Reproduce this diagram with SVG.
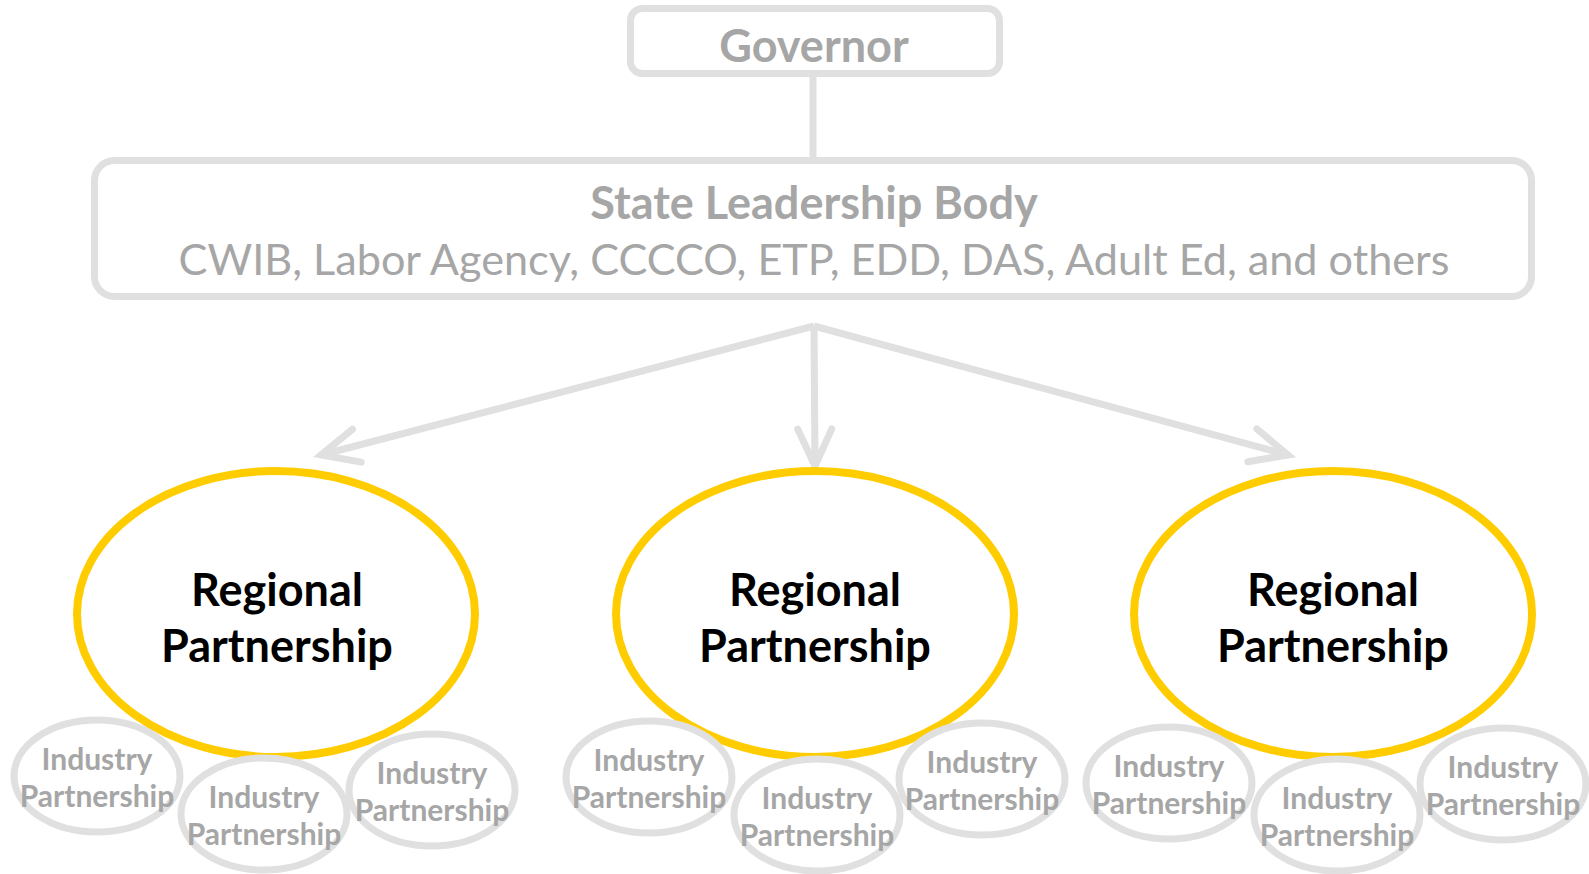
<svg xmlns="http://www.w3.org/2000/svg" width="1589" height="874" viewBox="0 0 1589 874">
<defs>
<style>
.box{fill:#fff;stroke:#e0e0e0;stroke-width:7}
.conn{fill:none;stroke:#e0e0e0;stroke-width:7}
.rp{fill:#fff;stroke:#ffcc00;stroke-width:8}
.ip{fill:#fff;stroke:#e0e0e0;stroke-width:7}
.gt{font-family:Lato,"Liberation Sans",sans-serif;fill:#a6a6a6;text-anchor:middle}
.b{font-weight:bold}
.rt{font-family:Lato,"Liberation Sans",sans-serif;font-weight:bold;fill:#000;text-anchor:middle;font-size:45px}
.it{font-family:Lato,"Liberation Sans",sans-serif;font-weight:bold;fill:#a6a6a6;text-anchor:middle;font-size:30px}
</style>
<marker id="ah" markerUnits="userSpaceOnUse" viewBox="-45 -25 55 50" refX="0" refY="0" markerWidth="55" markerHeight="50" orient="auto">
<path d="M-37,-17 L0,0 L-37,17" fill="none" stroke="#e0e0e0" stroke-width="7" stroke-linecap="round" stroke-linejoin="miter"/>
</marker>
</defs>
<rect width="1589" height="874" fill="#fff"/>
<g id="connectors">
<line class="conn" x1="813" y1="77" x2="813" y2="157"/>
<line class="conn" x1="814" y1="326" x2="321" y2="455" marker-end="url(#ah)"/>
<line class="conn" x1="814" y1="326" x2="815" y2="466" marker-end="url(#ah)"/>
<line class="conn" x1="814" y1="326" x2="1288" y2="455" marker-end="url(#ah)"/>
</g>
<g id="governor">
<rect class="box" x="630.5" y="8.5" width="369" height="65" rx="12"/>
<text class="gt b" x="814" y="62" font-size="45">Governor</text>
</g>
<g id="state">
<rect class="box" x="94.5" y="160.5" width="1437" height="136" rx="20"/>
<text class="gt b" x="814" y="219" font-size="45">State Leadership Body</text>
<text class="gt" x="814" y="275" font-size="43.2">CWIB, Labor Agency, CCCCO, ETP, EDD, DAS, Adult Ed, and others</text>
</g>
<g id="rp1">
<ellipse class="rp" cx="276" cy="614" rx="199" ry="143"/>
<text class="rt" x="277" y="606">Regional</text>
<text class="rt" x="277" y="662">Partnership</text>
</g>
<g id="rp2">
<ellipse class="rp" cx="815" cy="614" rx="199" ry="143"/>
<text class="rt" x="815" y="606">Regional</text>
<text class="rt" x="815" y="662">Partnership</text>
</g>
<g id="rp3">
<ellipse class="rp" cx="1333" cy="614" rx="199" ry="143"/>
<text class="rt" x="1333" y="606">Regional</text>
<text class="rt" x="1333" y="662">Partnership</text>
</g>
<g id="ip1"><ellipse class="ip" cx="97" cy="776" rx="83" ry="56"/><text class="it" x="97" y="770">Industry</text><text class="it" x="97" y="807">Partnership</text></g>
<g id="ip2"><ellipse class="ip" cx="264" cy="814" rx="83" ry="56"/><text class="it" x="264" y="808">Industry</text><text class="it" x="264" y="845">Partnership</text></g>
<g id="ip3"><ellipse class="ip" cx="432" cy="790" rx="83" ry="56"/><text class="it" x="432" y="784">Industry</text><text class="it" x="432" y="821">Partnership</text></g>
<g id="ip4"><ellipse class="ip" cx="649" cy="777" rx="83" ry="56"/><text class="it" x="649" y="771">Industry</text><text class="it" x="649" y="808">Partnership</text></g>
<g id="ip5"><ellipse class="ip" cx="817" cy="815" rx="83" ry="56"/><text class="it" x="817" y="809">Industry</text><text class="it" x="817" y="846">Partnership</text></g>
<g id="ip6"><ellipse class="ip" cx="982" cy="779" rx="83" ry="56"/><text class="it" x="982" y="773">Industry</text><text class="it" x="982" y="810">Partnership</text></g>
<g id="ip7"><ellipse class="ip" cx="1169" cy="783" rx="83" ry="56"/><text class="it" x="1169" y="777">Industry</text><text class="it" x="1169" y="814">Partnership</text></g>
<g id="ip8"><ellipse class="ip" cx="1337" cy="815" rx="83" ry="56"/><text class="it" x="1337" y="809">Industry</text><text class="it" x="1337" y="846">Partnership</text></g>
<g id="ip9"><ellipse class="ip" cx="1503" cy="784" rx="83" ry="56"/><text class="it" x="1503" y="778">Industry</text><text class="it" x="1503" y="815">Partnership</text></g>
</svg>
